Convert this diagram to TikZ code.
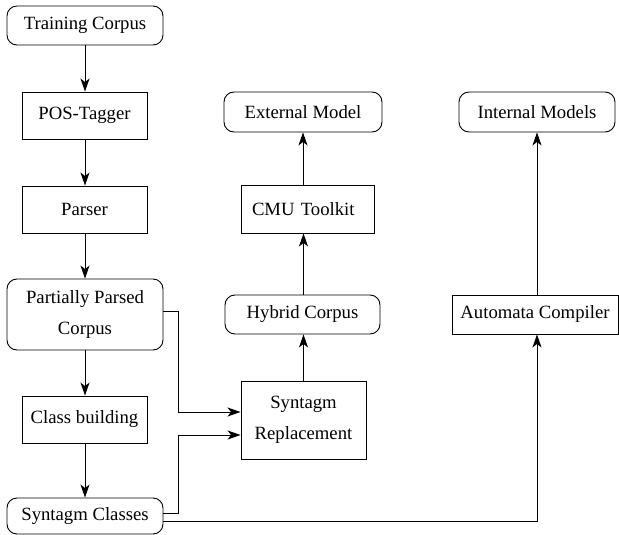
\documentclass[tikz,border=0pt]{standalone}
\usepackage{fontspec}
\setmainfont{Liberation Serif}
\usetikzlibrary{arrows.meta}
\begin{document}
\begin{tikzpicture}[x=1pt,y=-1pt,
  base/.style={draw, line width=0.9pt, inner sep=0pt, align=center,
    font=\fontsize{18.7}{30.5}\selectfont},
  rbox/.style={base, rounded corners=10pt},
  sbox/.style={base},
  arr/.style={-{Stealth[length=13pt,width=9pt,inset=3.5pt]}, line width=0.9pt}]
\useasboundingbox (0,0) rectangle (619,535);
% left column
\node[rbox, minimum width=156, minimum height=39] (tc) at (85,25.5) {Training Corpus};
\node[sbox, minimum width=125, minimum height=47] (pos) at (84.5,115.5) {POS-Tagger};
\node[sbox, minimum width=125, minimum height=47] (parser) at (84.5,209.5) {Parser};
\node[rbox, minimum width=156, minimum height=71] (ppc) at (85,314.5) {Partially Parsed\\Corpus};
\node[sbox, minimum width=125, minimum height=47] (cb) at (84.5,419.5) {Class building};
\node[rbox, minimum width=156, minimum height=36] (sc) at (85,516) {Syntagm Classes};
% middle column
\node[sbox, minimum width=125, minimum height=78] (sr) at (303.5,420) {Syntagm\\Replacement};
\node[rbox, minimum width=155, minimum height=39] (hc) at (302.5,314.5) {Hybrid Corpus};
\node[sbox, minimum height=48, text width=111, inner xsep=11, align=left] (cmu) at (307.5,209) {CMU Toolkit};
\node[rbox, minimum width=158, minimum height=40] (em) at (303,112) {External Model};
% right column
\node[sbox, minimum width=166, minimum height=39] (ac) at (535,314.5) {Automata Compiler};
\node[rbox, minimum width=156, minimum height=40] (im) at (537,112) {Internal Models};
% connectors
\draw[arr] (tc.south) -- (tc.south |- pos.north);
\draw[arr] (tc.south |- pos.south) -- (tc.south |- parser.north);
\draw[arr] (tc.south |- parser.south) -- (tc.south |- ppc.north);
\draw[arr] (tc.south |- ppc.south) -- (tc.south |- cb.north);
\draw[arr] (tc.south |- cb.south) -- (tc.south |- sc.north);
\draw[arr] ([yshift=3.5pt]ppc.east) -- ++(15,0) |- ([yshift=8pt]sr.west);
\draw[arr] ([yshift=3pt]sc.east) -- ++(15,0) |- ([yshift=-15pt]sr.west);
\draw[arr] ([yshift=-5pt]sc.east) -| ([xshift=2pt]ac.south);
\draw[arr] (sr.north) -- (sr.north |- hc.south);
\draw[arr] (sr.north |- hc.north) -- (sr.north |- cmu.south);
\draw[arr] (em.south |- cmu.north) -- (em.south);
\draw[arr] ([xshift=2pt]ac.north) -- (im.south);
\end{tikzpicture}
\end{document}
